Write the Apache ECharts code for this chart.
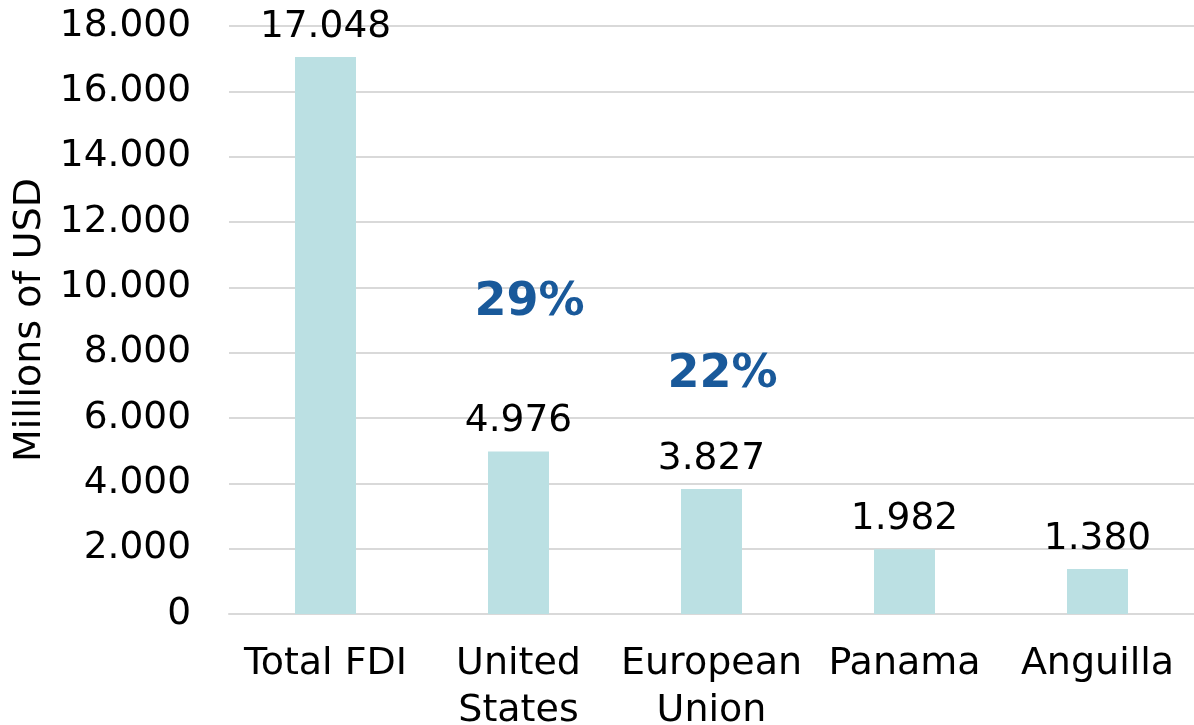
<!DOCTYPE html>
<html>
<head>
<meta charset="utf-8">
<script src="https://cdn.jsdelivr.net/npm/echarts@6/dist/echarts.min.js"></script>
<style>
html,body{margin:0;padding:0;background:#fff;}
#chart{width:1194px;height:725px;}
</style>
</head>
<body>
<div id="chart"></div>
<script>
var categories = ['Total FDI', 'United\nStates', 'European\nUnion', 'Panama', 'Anguilla'];
var values = [17048, 4976, 3827, 1982, 1380];
var shareCategories = [1, 2];
var shareLabels = ['29%', '22%'];
var shareAnchors = [9510, 7330];
var yTicks = { min: 0, max: 18000, interval: 2000 };

function fmt(v) {
  return String(Math.round(v)).replace(/\B(?=(\d{3})+(?!\d))/g, '.');
}

var FONT = 'DejaVu Sans';
var chart = echarts.init(document.getElementById('chart'), null, { renderer: 'canvas' });
chart.setOption({
  animation: false,
  backgroundColor: '#ffffff',
  grid: { left: 229, right: 0, top: 26, bottom: 111, containLabel: false, outerBoundsMode: 'none' },
  xAxis: {
    type: 'category',
    data: categories,
    axisTick: { show: false },
    axisLine: { lineStyle: { color: '#d9d9d9', width: 2 } },
    axisLabel: { color: '#000', fontFamily: FONT, fontSize: 38, lineHeight: 47, margin: 26.5, interval: 0 }
  },
  yAxis: {
    type: 'value',
    min: yTicks.min, max: yTicks.max, interval: yTicks.interval,
    name: 'Millions of USD',
    nameLocation: 'middle',
    nameRotate: 90,
    nameGap: 174,
    nameTextStyle: { color: '#000', fontFamily: FONT, fontSize: 38 },
    axisLine: { show: false },
    axisTick: { show: false },
    splitLine: { lineStyle: { color: '#d9d9d9', width: 2 } },
    axisLabel: { color: '#000', fontFamily: FONT, fontSize: 37.5, margin: 38, formatter: fmt }
  },
  series: [
    {
      type: 'bar',
      data: values,
      barWidth: '31.6%',
      itemStyle: { color: '#bbe0e3' },
      label: {
        show: true, position: 'top', distance: 11,
        color: '#000', fontFamily: FONT, fontSize: 37.5,
        formatter: function (p) { return fmt(p.value); }
      }
    },
    {
      type: 'scatter',
      symbolSize: 0,
      silent: true,
      itemStyle: { opacity: 1 },
      data: shareCategories.map(function (c, i) { return [c, shareAnchors[i]]; }),
      label: {
        show: true, position: 'inside', offset: [11, 0],
        color: '#19599a', fontFamily: FONT, fontSize: 46, fontWeight: 'bold',
        formatter: function (p) { return shareLabels[p.dataIndex]; }
      }
    }
  ]
});
</script>
</body>
</html>
